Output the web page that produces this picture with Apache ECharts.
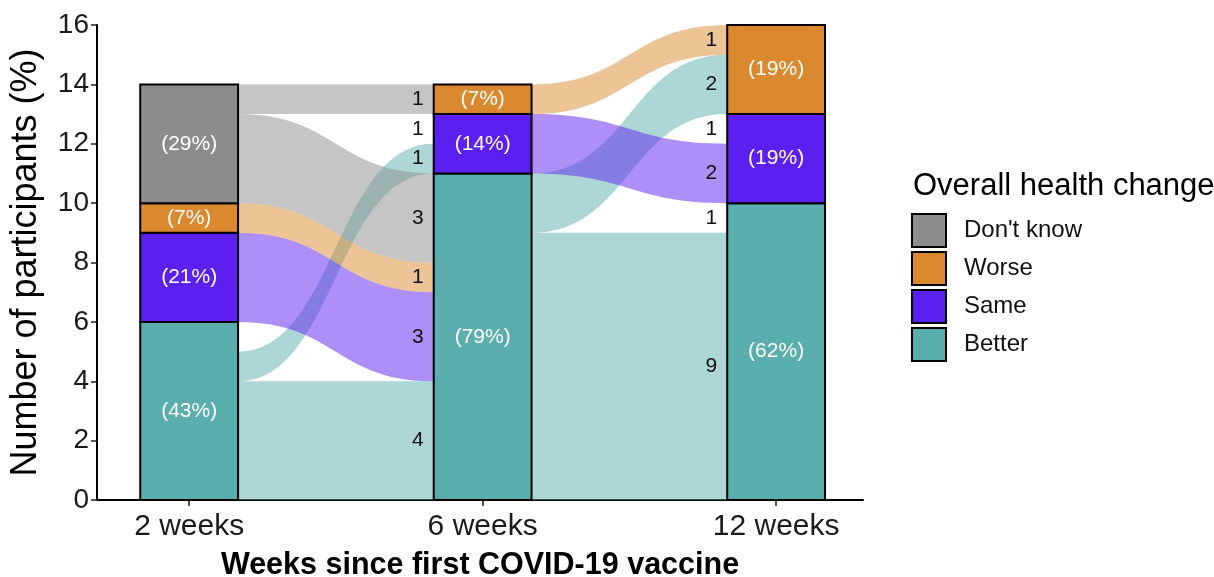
<!DOCTYPE html>
<html>
<head>
<meta charset="utf-8">
<script src="https://cdn.jsdelivr.net/npm/echarts@6/dist/echarts.min.js"></script>
<style>
html,body{margin:0;padding:0;background:#ffffff;}
#chart{width:1214px;height:577px;}
</style>
</head>
<body>
<div id="chart"></div>
<script>
// ---------------- data ----------------
const timepoints = ['2 weeks', '6 weeks', '12 weeks'];
const categories = ['Better', 'Same', 'Worse', "Don't know"]; // stacking order, bottom to top
const legendOrder = ["Don't know", 'Worse', 'Same', 'Better'];

const countsBetter = [6, 11, 10];
const countsSame = [3, 2, 3];
const countsWorse = [1, 1, 3];
const countsDontKnow = [4, 0, 0];

const pctBetter = ['(43%)', '(79%)', '(62%)'];
const pctSame = ['(21%)', '(14%)', '(19%)'];
const pctWorse = ['(7%)', '(7%)', '(19%)'];
const pctDontKnow = ['(29%)', '', ''];

// flows between consecutive timepoints: [from, to, n]; null = no response at that timepoint
const flows2to6 = [
  ['Better', 'Better', 4],
  ['Better', 'Same', 1],
  ['Better', null, 1],
  ['Same', 'Better', 3],
  ['Worse', 'Better', 1],
  ["Don't know", 'Better', 3],
  ["Don't know", 'Worse', 1],
  [null, 'Same', 1]
];
const flows6to12 = [
  ['Better', 'Better', 9],
  ['Better', 'Worse', 2],
  ['Same', 'Same', 2],
  ['Worse', 'Worse', 1],
  [null, 'Better', 1],
  [null, 'Same', 1]
];

// ---------------- styling ----------------
const FONT = '"Liberation Sans", Arial, Helvetica, sans-serif';
const colorOf = {
  'Better': '#5AAFAE',
  'Same': '#5B1FEF',
  'Worse': '#DA892E',
  "Don't know": '#8C8C8C'
};
const HALF = 1 / 6; // half bar width in x units

function hexToRgba(hex, a) {
  const h = hex.replace('#', '');
  const r = parseInt(h.substr(0, 2), 16), g = parseInt(h.substr(2, 2), 16), b = parseInt(h.substr(4, 2), 16);
  return 'rgba(' + r + ',' + g + ',' + b + ',' + a + ')';
}

// ---------------- stacked strata ----------------
const countsByCat = { 'Better': countsBetter, 'Same': countsSame, 'Worse': countsWorse, "Don't know": countsDontKnow };
const pctByCat = { 'Better': pctBetter, 'Same': pctSame, 'Worse': pctWorse, "Don't know": pctDontKnow };
const stratumData = {};
categories.forEach(c => { stratumData[c] = []; });
timepoints.forEach((t, i) => {
  let acc = 0;
  categories.forEach(c => {
    const v = countsByCat[c][i];
    if (v > 0) stratumData[c].push([i + 1, acc, acc + v, i]);
    acc += v;
  });
});

function renderStratum(cat) {
  return function (params, api) {
    const x = api.value(0), lo = api.value(1), hi = api.value(2), ti = api.value(3);
    const p0 = api.coord([x - HALF, hi]);
    const p1 = api.coord([x + HALF, lo]);
    const c = api.coord([x, (lo + hi) / 2]);
    return {
      type: 'group',
      children: [
        {
          type: 'rect',
          shape: { x: p0[0], y: p0[1], width: p1[0] - p0[0], height: p1[1] - p0[1] },
          style: { fill: colorOf[cat], stroke: '#000', lineWidth: 2 }
        },
        {
          type: 'text',
          x: c[0], y: c[1],
          style: {
            text: pctByCat[cat][ti], fill: '#fff', fontSize: 21, fontFamily: FONT,
            align: 'center', verticalAlign: 'middle'
          }
        }
      ]
    };
  };
}

// ---------------- flows ----------------
// stack flows on each side (ordered by source then target, missing last)
function layoutFlows(flows, stage) {
  const ci = c => (c == null ? 99 : categories.indexOf(c));
  const items = flows.map(f => ({ from: f[0], to: f[1], n: f[2], sLo: -1, sHi: -1, dLo: -1, dHi: -1 }));
  let acc = 0;
  items.filter(f => f.from != null)
    .sort((a, b) => ci(a.from) - ci(b.from) || ci(a.to) - ci(b.to))
    .forEach(f => { f.sLo = acc; acc += f.n; f.sHi = acc; });
  acc = 0;
  items.filter(f => f.to != null)
    .sort((a, b) => ci(a.to) - ci(b.to) || ci(a.from) - ci(b.from))
    .forEach(f => { f.dLo = acc; acc += f.n; f.dHi = acc; });
  return items.map(f => [
    stage + 1 + HALF, stage + 2 - HALF,
    f.sLo, f.sHi, f.dLo, f.dHi,
    f.from == null ? -1 : categories.indexOf(f.from), f.n
  ]);
}
const flowData = layoutFlows(flows2to6, 0).concat(layoutFlows(flows6to12, 1));

function renderFlow(params, api) {
  const x0 = api.value(0), x1 = api.value(1);
  const sLo = api.value(2), sHi = api.value(3), dLo = api.value(4), dHi = api.value(5);
  const cIdx = api.value(6), n = api.value(7);
  const children = [];
  if (cIdx >= 0 && dLo >= 0) {
    const a1 = api.coord([x0, sHi]), a0 = api.coord([x0, sLo]);
    const b1 = api.coord([x1, dHi]), b0 = api.coord([x1, dLo]);
    const mx = (a1[0] + b1[0]) / 2;
    const d = 'M' + a1[0] + ',' + a1[1] +
      ' C' + mx + ',' + a1[1] + ' ' + mx + ',' + b1[1] + ' ' + b1[0] + ',' + b1[1] +
      ' L' + b0[0] + ',' + b0[1] +
      ' C' + mx + ',' + b0[1] + ' ' + mx + ',' + a0[1] + ' ' + a0[0] + ',' + a0[1] + ' Z';
    children.push({
      type: 'path',
      shape: { pathData: d },
      style: { fill: hexToRgba(colorOf[categories[cIdx]], 0.5), stroke: null }
    });
  }
  if (dLo >= 0) {
    const p = api.coord([x1, (dLo + dHi) / 2]);
    children.push({
      type: 'text',
      x: p[0] - 10,
      y: p[1],
      z2: 10,
      style: {
        text: String(n), fontSize: 21, fontFamily: FONT, fill: '#111',
        align: 'right', verticalAlign: 'middle'
      }
    });
  }
  return { type: 'group', children: children };
}

const series = [
  {
    name: 'flows',
    type: 'custom',
    z: 1,
    renderItem: renderFlow,
    data: flowData,
    encode: { x: [0, 1], y: [2, 3, 4, 5] },
    silent: true,
    clip: false
  }
];
categories.forEach(c => {
  series.push({
    name: c,
    type: 'custom',
    z: 5,
    renderItem: renderStratum(c),
    data: stratumData[c],
    encode: { x: 0, y: [1, 2] },
    itemStyle: { color: colorOf[c], borderColor: '#000', borderWidth: 2 },
    silent: true,
    clip: false
  });
});

const chart = echarts.init(document.getElementById('chart'), null, { renderer: 'canvas' });
chart.setOption({
  animation: false,
  backgroundColor: '#ffffff',
  textStyle: { fontFamily: FONT },
  title: {
    text: 'Overall health change',
    left: 908, top: 166,
    textStyle: { fontSize: 31, fontWeight: 'normal', color: '#000', fontFamily: FONT }
  },
  legend: {
    data: legendOrder.map(c => ({ name: c, itemStyle: { color: colorOf[c], borderColor: '#000', borderWidth: 2 } })),
    orient: 'vertical',
    left: 911, top: 213,
    padding: 0,
    itemWidth: 34, itemHeight: 33, itemGap: 3,
    icon: 'rect',
    textStyle: { fontSize: 24, color: '#111', fontFamily: FONT, padding: [0, 0, 0, 13] },
    selectedMode: false
  },
  grid: { left: 97, right: 351, top: 25, bottom: 77, containLabel: false, outerBoundsMode: 'none' },
  xAxis: {
    type: 'value',
    min: 0.686, max: 3.296,
    name: 'Weeks since first COVID-19 vaccine',
    nameLocation: 'middle',
    nameGap: 50,
    nameTextStyle: { fontSize: 30.5, fontWeight: 'bold', color: '#000', fontFamily: FONT },
    axisLine: { show: true, lineStyle: { color: '#000', width: 2 } },
    axisTick: { show: true, customValues: [1, 2, 3], length: 6, lineStyle: { color: '#222', width: 1.5 } },
    axisLabel: {
      customValues: [1, 2, 3],
      formatter: v => timepoints[Math.round(v) - 1],
      fontSize: 30, color: '#1a1a1a', margin: 12, fontFamily: FONT
    },
    splitLine: { show: false }
  },
  yAxis: {
    type: 'value',
    min: 0, max: 16, interval: 2,
    name: 'Number of participants (%)',
    nameLocation: 'middle',
    nameRotate: 90,
    nameGap: 53,
    nameTextStyle: { fontSize: 36, color: '#000', fontFamily: FONT },
    axisLine: { show: true, lineStyle: { color: '#000', width: 2 } },
    axisTick: { show: true, length: 6, lineStyle: { color: '#222', width: 1.5 } },
    axisLabel: { fontSize: 28, color: '#1a1a1a', margin: 8, fontFamily: FONT },
    splitLine: { show: false }
  },
  series: series
});
</script>
</body>
</html>
